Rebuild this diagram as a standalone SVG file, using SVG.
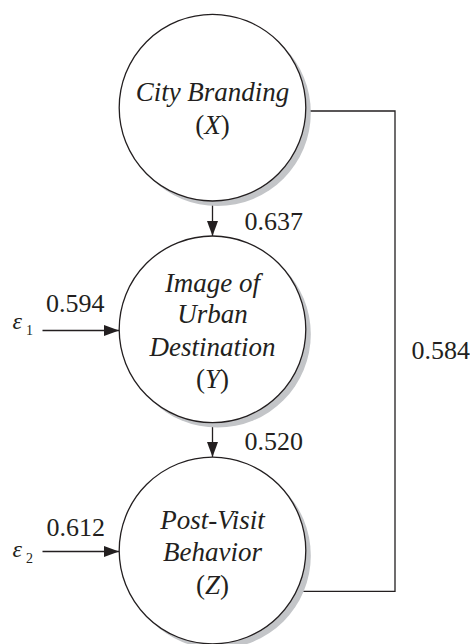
<svg xmlns="http://www.w3.org/2000/svg" width="470" height="644" viewBox="0 0 470 644">
<style>
.shadow{fill:#c3c5c8;stroke:none}
.node{fill:#ffffff;stroke:#231f20;stroke-width:1.3}
.conn{fill:none;stroke:#231f20;stroke-width:1.3}
text{font-family:'Liberation Serif','Times New Roman',Tinos,'DejaVu Serif',serif;fill:#231f20}
.lbl{font-size:27px;font-style:italic;text-anchor:middle}
.up{font-style:normal}
.num{font-size:26px}
.eps{font-size:24px;font-style:italic}
.sub{font-size:14px}
</style>
<defs>
<marker id="arr" markerWidth="16" markerHeight="12" refX="15" refY="6" orient="auto" markerUnits="userSpaceOnUse">
<path d="M0,0.5 L15,6 L0,11.5 Z" fill="#231f20"/>
</marker>
</defs>
<g id="connectors">
<line class="conn" x1="212.5" y1="201" x2="212.5" y2="236" marker-end="url(#arr)"/>
<line class="conn" x1="212.5" y1="422.5" x2="212.5" y2="457" marker-end="url(#arr)"/>
<line class="conn" x1="42.5" y1="330.5" x2="119" y2="330.5" marker-end="url(#arr)"/>
<line class="conn" x1="42.5" y1="551.5" x2="119" y2="551.5" marker-end="url(#arr)"/>
<polyline class="conn" points="305.5,111 395,111 395,591.3 296.5,591.3"/>
</g>
<g id="node-x">
<circle class="shadow" cx="217.5" cy="112.7" r="93.3"/>
<circle class="node" cx="212.5" cy="107.7" r="93.3"/>
<text class="lbl" x="212.5" y="101" font-family="Liberation Serif, serif">City Branding</text>
<text class="lbl" x="212.5" y="134"><tspan class="up">(</tspan>X<tspan class="up">)</tspan></text>
</g>
<g id="node-y">
<circle class="shadow" cx="217.5" cy="334.3" r="93.3"/>
<circle class="node" cx="212.5" cy="329.3" r="93.3"/>
<text class="lbl" x="212.5" y="291.5">Image of</text>
<text class="lbl" x="212.5" y="323">Urban</text>
<text class="lbl" x="212.5" y="355.5">Destination</text>
<text class="lbl" x="212.5" y="388"><tspan class="up">(</tspan>Y<tspan class="up">)</tspan></text>
</g>
<g id="node-z">
<circle class="shadow" cx="217.5" cy="555.5" r="93.3"/>
<circle class="node" cx="212.5" cy="550.5" r="93.3"/>
<text class="lbl" x="212.5" y="528.5">Post-Visit</text>
<text class="lbl" x="212.5" y="561">Behavior</text>
<text class="lbl" x="212.5" y="594"><tspan class="up">(</tspan>Z<tspan class="up">)</tspan></text>
</g>
<g id="labels">
<text class="num" x="244.5" y="230">0.637</text>
<text class="num" x="244.5" y="450">0.520</text>
<text class="num" x="46" y="311.5">0.594</text>
<text class="num" x="46.5" y="535.5">0.612</text>
<text class="num" x="411.5" y="359">0.584</text>
<text class="eps" x="12.5" y="329">ε</text>
<text class="sub" x="26" y="335">1</text>
<text class="eps" x="12.5" y="557">ε</text>
<text class="sub" x="26" y="563">2</text>
</g>
</svg>
